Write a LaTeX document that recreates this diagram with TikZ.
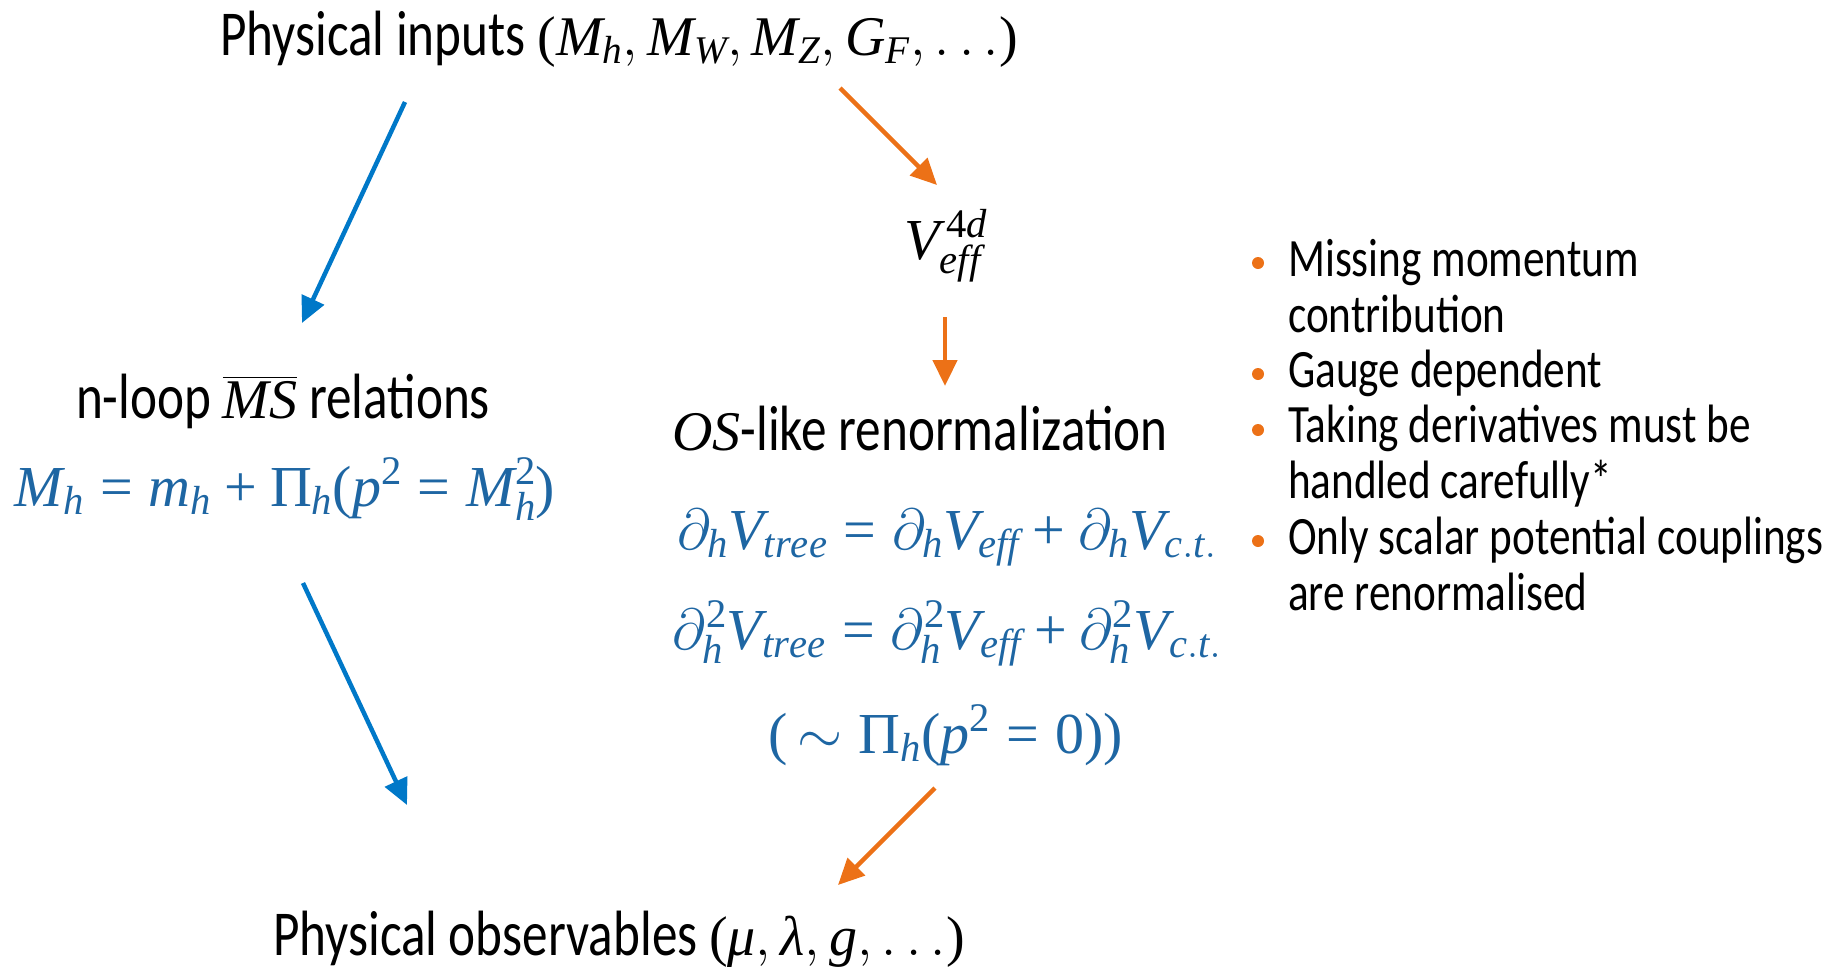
\documentclass[tikz,border=0pt]{standalone}
\usepackage{amsmath}
\usepackage{fix-cm}
\usepackage[no-math]{fontspec}
\setmainfont{Carlito}[FakeStretch=0.8]
\newfontfamily\tmsfont{Liberation Serif}[NFSSFamily=tmsfam]
\DeclareSymbolFont{tmsit}{TU}{tmsfam}{m}{it}
\DeclareSymbolFont{operators}{TU}{tmsfam}{m}{n}
\makeatletter
\count@=`A
\loop
  \Umathcode\count@ = 7 \symtmsit \count@
  \advance\count@ 1
\ifnum\count@<`[ \repeat
\count@=`a
\loop
  \Umathcode\count@ = 7 \symtmsit \count@
  \advance\count@ 1
\ifnum\count@<`\{ \repeat
\makeatother
\Umathchardef\tPi = 0 \symoperators "03A0
\Umathchardef\tmu = 7 \symtmsit "03BC
\Umathchardef\tlambda = 7 \symtmsit "03BB
\newcommand\mth[1]{{\fontsize{56}{60}\selectfont$#1$}}
\usetikzlibrary{arrows.meta}
\definecolor{eqblue}{HTML}{1E66A3}
\definecolor{arrblue}{HTML}{0078C8}
\definecolor{orng}{HTML}{EC7117}
\tikzset{
  txt/.style={inner sep=0pt, anchor=base, font=\fontsize{64}{70}\selectfont},
  eqn/.style={inner sep=0pt, anchor=base, text=eqblue, font=\fontsize{58}{64}\selectfont},
  bul/.style={inner sep=0pt, anchor=base west, align=left, font=\fontsize{54}{55.5}\selectfont},
  dot/.style={circle, fill=orng, inner sep=0pt, minimum size=12pt},
  barrow/.style={draw=arrblue, line width=4.5pt, -{Triangle[length=26pt,width=24pt]}},
  oarrow/.style={draw=orng, line width=4.5pt, -{Triangle[length=26pt,width=24pt]}},
}
\begin{document}
\begin{tikzpicture}[x=1pt,y=-1pt]
\useasboundingbox (0,0) rectangle (1831,967);
\node[txt] (inputs) at (619,55) {Physical inputs \mth{(M_h, M_W, M_Z, G_F, \ldots)}};
\node[txt] (veff) at (946,259) {\fontsize{58}{60}\selectfont$V_{eff}^{\,4d}$};
\node[txt] (msbar) at (283,418) {n-loop \mth{\overline{MS}} relations};
\node[eqn] (mheq) at (285,506) {$M_h = m_h + \tPi_h(p^2 = M_h^2)$};
\node[txt] (os) at (920,450) {\mth{OS}-like renormalization};
\node[eqn] (eq1) at (947,549) {$\partial_h V_{tree} = \partial_h V_{eff} + \partial_h V_{c.t.}$};
\node[eqn] (eq2) at (947,649) {$\partial_h^2 V_{tree} = \partial_h^2 V_{eff} + \partial_h^2 V_{c.t.}$};
\node[eqn] (eq3) at (946,753) {$(\,\sim \tPi_h(p^2 = 0))$};
\node[txt] (obs) at (619,955) {Physical observables \mth{(\tmu, \tlambda, g, \ldots)}};
% bullets (anchored at the baseline of their last line)
\node[bul] (b1) at (1288,332) {Missing momentum\\contribution};
\node[bul] (b2) at (1288,387) {Gauge dependent};
\node[bul] (b3) at (1288,498) {Taking derivatives must be\\handled carefully*};
\node[bul] (b4) at (1288,610) {Only scalar potential couplings\\are renormalised};
\node[dot] (d1) at (1258,263) {};
\node[dot] (d2) at (1258,374) {};
\node[dot] (d3) at (1258,430) {};
\node[dot] (d4) at (1258,541) {};
% arrows
\coordinate (a1s) at (405,102); \coordinate (a1e) at (302,323);
\coordinate (a2s) at (303,583); \coordinate (a2e) at (407,805);
\coordinate (o1s) at (840,88);  \coordinate (o1e) at (937,185);
\coordinate (o2s) at (945,317); \coordinate (o2e) at (945,386);
\coordinate (o3s) at (935,788); \coordinate (o3e) at (838,885);
\draw[barrow] (a1s) -- (a1e);
\draw[barrow] (a2s) -- (a2e);
\draw[oarrow] (o1s) -- (o1e);
\draw[oarrow] (o2s) -- (o2e);
\draw[oarrow] (o3s) -- (o3e);
\end{tikzpicture}
\end{document}
